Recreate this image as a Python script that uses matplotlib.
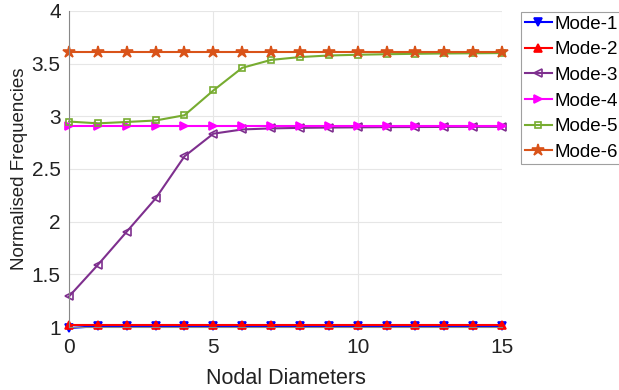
import matplotlib
matplotlib.use("Agg")
import matplotlib.pyplot as plt
import numpy as np

plt.rcParams['font.family'] = ['Liberation Sans', 'DejaVu Sans']

nd = list(range(16))
mode1 = [0.99] + [1.008] * 15
mode2 = [1.02] * 16
mode3 = [1.29, 1.59, 1.905, 2.22, 2.62, 2.835, 2.875, 2.885, 2.89, 2.893, 2.895, 2.897, 2.898, 2.899, 2.9, 2.9]
mode4 = [2.905] * 16
mode5 = [2.95, 2.933, 2.946, 2.96, 3.01, 3.245, 3.46, 3.535, 3.562, 3.577, 3.584, 3.589, 3.593, 3.596, 3.598, 3.6]
mode6 = [3.61] * 16
labels = ['Mode-1', 'Mode-2', 'Mode-3', 'Mode-4', 'Mode-5', 'Mode-6']

series = [mode1, mode2, mode3, mode4, mode5, mode6]
colors = ['#0000FF', '#FF0000', '#7E2F8E', '#FF00FF', '#77AC30', '#D95319']
markers = ['v', '^', '<', '>', 's', '*']
msizes = [6, 6, 6, 6, 4, 9]

fig = plt.figure(figsize=(6.19, 3.9), dpi=100)
ax = fig.add_axes([0.1115, 0.1615, 0.6995, 0.8105])
for y, c, m, ms, lab in zip(series, colors, markers, msizes, labels):
    ax.plot(nd, y, color=c, marker=m, markersize=ms, linewidth=1.5, label=lab,
            markerfacecolor=c if m in ('v', '^', '*', '>') else 'none',
            markeredgewidth=1.2, clip_on=False)

ax.set_xlim(0, 15)
ax.set_ylim(1, 4)
ax.set_xticks([0, 5, 10, 15])
ax.set_yticks([1, 1.5, 2, 2.5, 3, 3.5, 4])
ax.set_yticklabels(['1', '1.5', '2', '2.5', '3', '3.5', '4'])
ax.grid(True, color='#e6e6e6', linewidth=0.8)
ax.set_axisbelow(True)
for s in ['top', 'right']:
    ax.spines[s].set_visible(False)
for s in ['left', 'bottom']:
    ax.spines[s].set_color('#888888')
    ax.spines[s].set_linewidth(0.8)
ax.tick_params(axis='both', labelsize=15, length=0, colors='#222222', pad=6)
ax.tick_params(axis='x', pad=8)
ax.set_xlabel('Nodal Diameters', fontsize=15.5, color='#222222', labelpad=8)
ax.set_ylabel('Normalised Frequencies', fontsize=13.5, color='#222222', labelpad=3)

leg = fig.legend(loc='upper left', bbox_to_anchor=(521/619, 1 - 12/390), fontsize=13.5,
                 frameon=True, fancybox=False, borderpad=0.2, labelspacing=0.45,
                 handlelength=1.45, handletextpad=0.15, borderaxespad=0)
leg.get_frame().set_edgecolor('#888888')
leg.get_frame().set_linewidth(0.8)

fig.savefig('out.png', dpi=100)
